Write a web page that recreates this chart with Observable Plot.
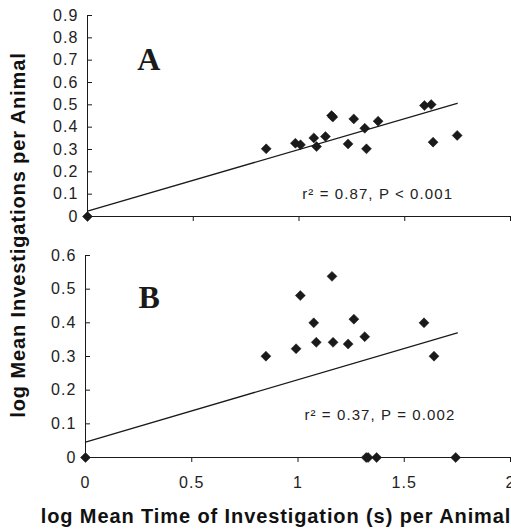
<!DOCTYPE html>
<html><head><meta charset="utf-8">
<script src="https://cdn.jsdelivr.net/npm/d3@7"></script>
<script src="https://cdn.jsdelivr.net/npm/@observablehq/plot@0.6"></script>
<style>
body{margin:0;background:#fff;}
#wrap{position:relative;width:511px;height:532px;font-family:Arial,"Liberation Sans",sans-serif;overflow:hidden;}
#wrap svg{position:absolute;left:0;overflow:visible;}
.ylab{position:absolute;left:18px;top:235px;transform:translate(-50%,-50%) rotate(-90deg);white-space:nowrap;font-weight:bold;font-size:20px;letter-spacing:0.9px;color:#111;}
.xlab{position:absolute;left:276px;top:516px;transform:translate(-50%,-50%);white-space:nowrap;font-weight:bold;font-size:20px;letter-spacing:0.9px;color:#111;}
</style></head>
<body><div id="wrap"></div>
<script>
// Panel A data
const aX = [0, 0.845, 0.983, 1.007, 1.070, 1.083, 1.125, 1.154, 1.160, 1.232, 1.259, 1.311, 1.319, 1.374, 1.593, 1.625, 1.634, 1.748];
const aY = [0, 0.303, 0.328, 0.321, 0.352, 0.313, 0.358, 0.452, 0.445, 0.325, 0.437, 0.395, 0.303, 0.427, 0.497, 0.501, 0.333, 0.363];
const aLineX = [0, 1.748];
const aLineY = [0.024, 0.507];
// Panel B data
const bX = [0, 0.849, 0.991, 1.011, 1.074, 1.086, 1.160, 1.165, 1.236, 1.263, 1.314, 1.321, 1.330, 1.370, 1.593, 1.640, 1.742];
const bY = [0, 0.301, 0.323, 0.481, 0.400, 0.342, 0.538, 0.342, 0.337, 0.411, 0.359, 0, 0, 0, 0.400, 0.301, 0];
const bLineX = [0, 1.75];
const bLineY = [0.046, 0.370];
const xTicks = [0, 0.5, 1, 1.5, 2];
const aYTicks = [0, 0.1, 0.2, 0.3, 0.4, 0.5, 0.6, 0.7, 0.8, 0.9];
const bYTicks = [0, 0.1, 0.2, 0.3, 0.4, 0.5, 0.6];
const labels = {A: "A", B: "B", statA: "r² = 0.87, P < 0.001", statB: "r² = 0.37, P = 0.002",
  x: "log Mean Time of Investigation (s) per Animal", y: "log Mean Investigations per Animal"};

const fmt = d3.format("~g");
const ink = "#1a1a1a";

function panel({xs, ys, lx, ly, yTicks, yMax, letter, letterPos, stat, statPos, showX, height, marginBottom, marginLeft}) {
  const pts = xs.map((x, i) => ({x, y: ys[i]}));
  const line = lx.map((x, i) => ({x, y: ly[i]}));
  const svg = Plot.plot({
    width: 511, height, marginLeft, marginRight: 1, marginTop: 15, marginBottom,
    style: {fontFamily: "Arial, 'Liberation Sans', sans-serif", color: ink, background: "transparent"},
    x: {domain: [0, 2]},
    y: {domain: [0, yMax]},
    marks: [
      Plot.axisY({ticks: yTicks, tickFormat: fmt, tickSize: -5, tickPadding: 14, fontSize: 16, label: null, stroke: ink, fill: "#222"}),
      Plot.axisX({ticks: xTicks, tickFormat: showX ? fmt : () => "", tickSize: 5, tickPadding: 14, fontSize: 16, label: null, stroke: ink, fill: "#222"}),
      Plot.ruleX([0], {y1: 0, y2: yMax, stroke: ink}),
      Plot.ruleY([0], {x1: 0, x2: 2, stroke: ink}),
      Plot.line(line, {x: "x", y: "y", stroke: ink, strokeWidth: 1.3}),
      Plot.dot(pts, {x: "x", y: "y", symbol: "diamond2", r: 4.5, fill: ink, stroke: ink, strokeWidth: 0.5}),
      Plot.text([letter], {x: letterPos[0], y: letterPos[1], text: d => d, fontSize: 32, fontWeight: "bold", fontFamily: "'Liberation Serif', 'Times New Roman', serif", fill: ink}),
      Plot.text([stat], {x: statPos[0], y: statPos[1], text: d => d, textAnchor: "start", fontSize: 15, fill: "#222"})
    ]
  });
  svg.querySelectorAll("text").forEach(t => {
    if (!t.closest("[font-family*='Serif']")) t.style.letterSpacing = "1.1px";
  });
  return svg;
}

const wrap = document.getElementById("wrap");
const pA = panel({xs: aX, ys: aY, lx: aLineX, ly: aLineY, yTicks: aYTicks, yMax: 0.9, letter: labels.A, letterPos: [0.29, 0.7],
  stat: labels.statA, statPos: [1.015, 0.1], showX: false, height: 226, marginBottom: 10, marginLeft: 87});
pA.style.top = "0px";
const pB = panel({xs: bX, ys: bY, lx: bLineX, ly: bLineY, yTicks: bYTicks, yMax: 0.6, letter: labels.B, letterPos: [0.3, 0.475],
  stat: labels.statB, statPos: [1.03, 0.125], showX: true, height: 262, marginBottom: 45, marginLeft: 85});
pB.style.top = "240px";
wrap.appendChild(pA);
wrap.appendChild(pB);
const yl = document.createElement("div"); yl.className = "ylab"; yl.textContent = labels.y; wrap.appendChild(yl);
const xl = document.createElement("div"); xl.className = "xlab"; xl.textContent = labels.x; wrap.appendChild(xl);
</script></body></html>
